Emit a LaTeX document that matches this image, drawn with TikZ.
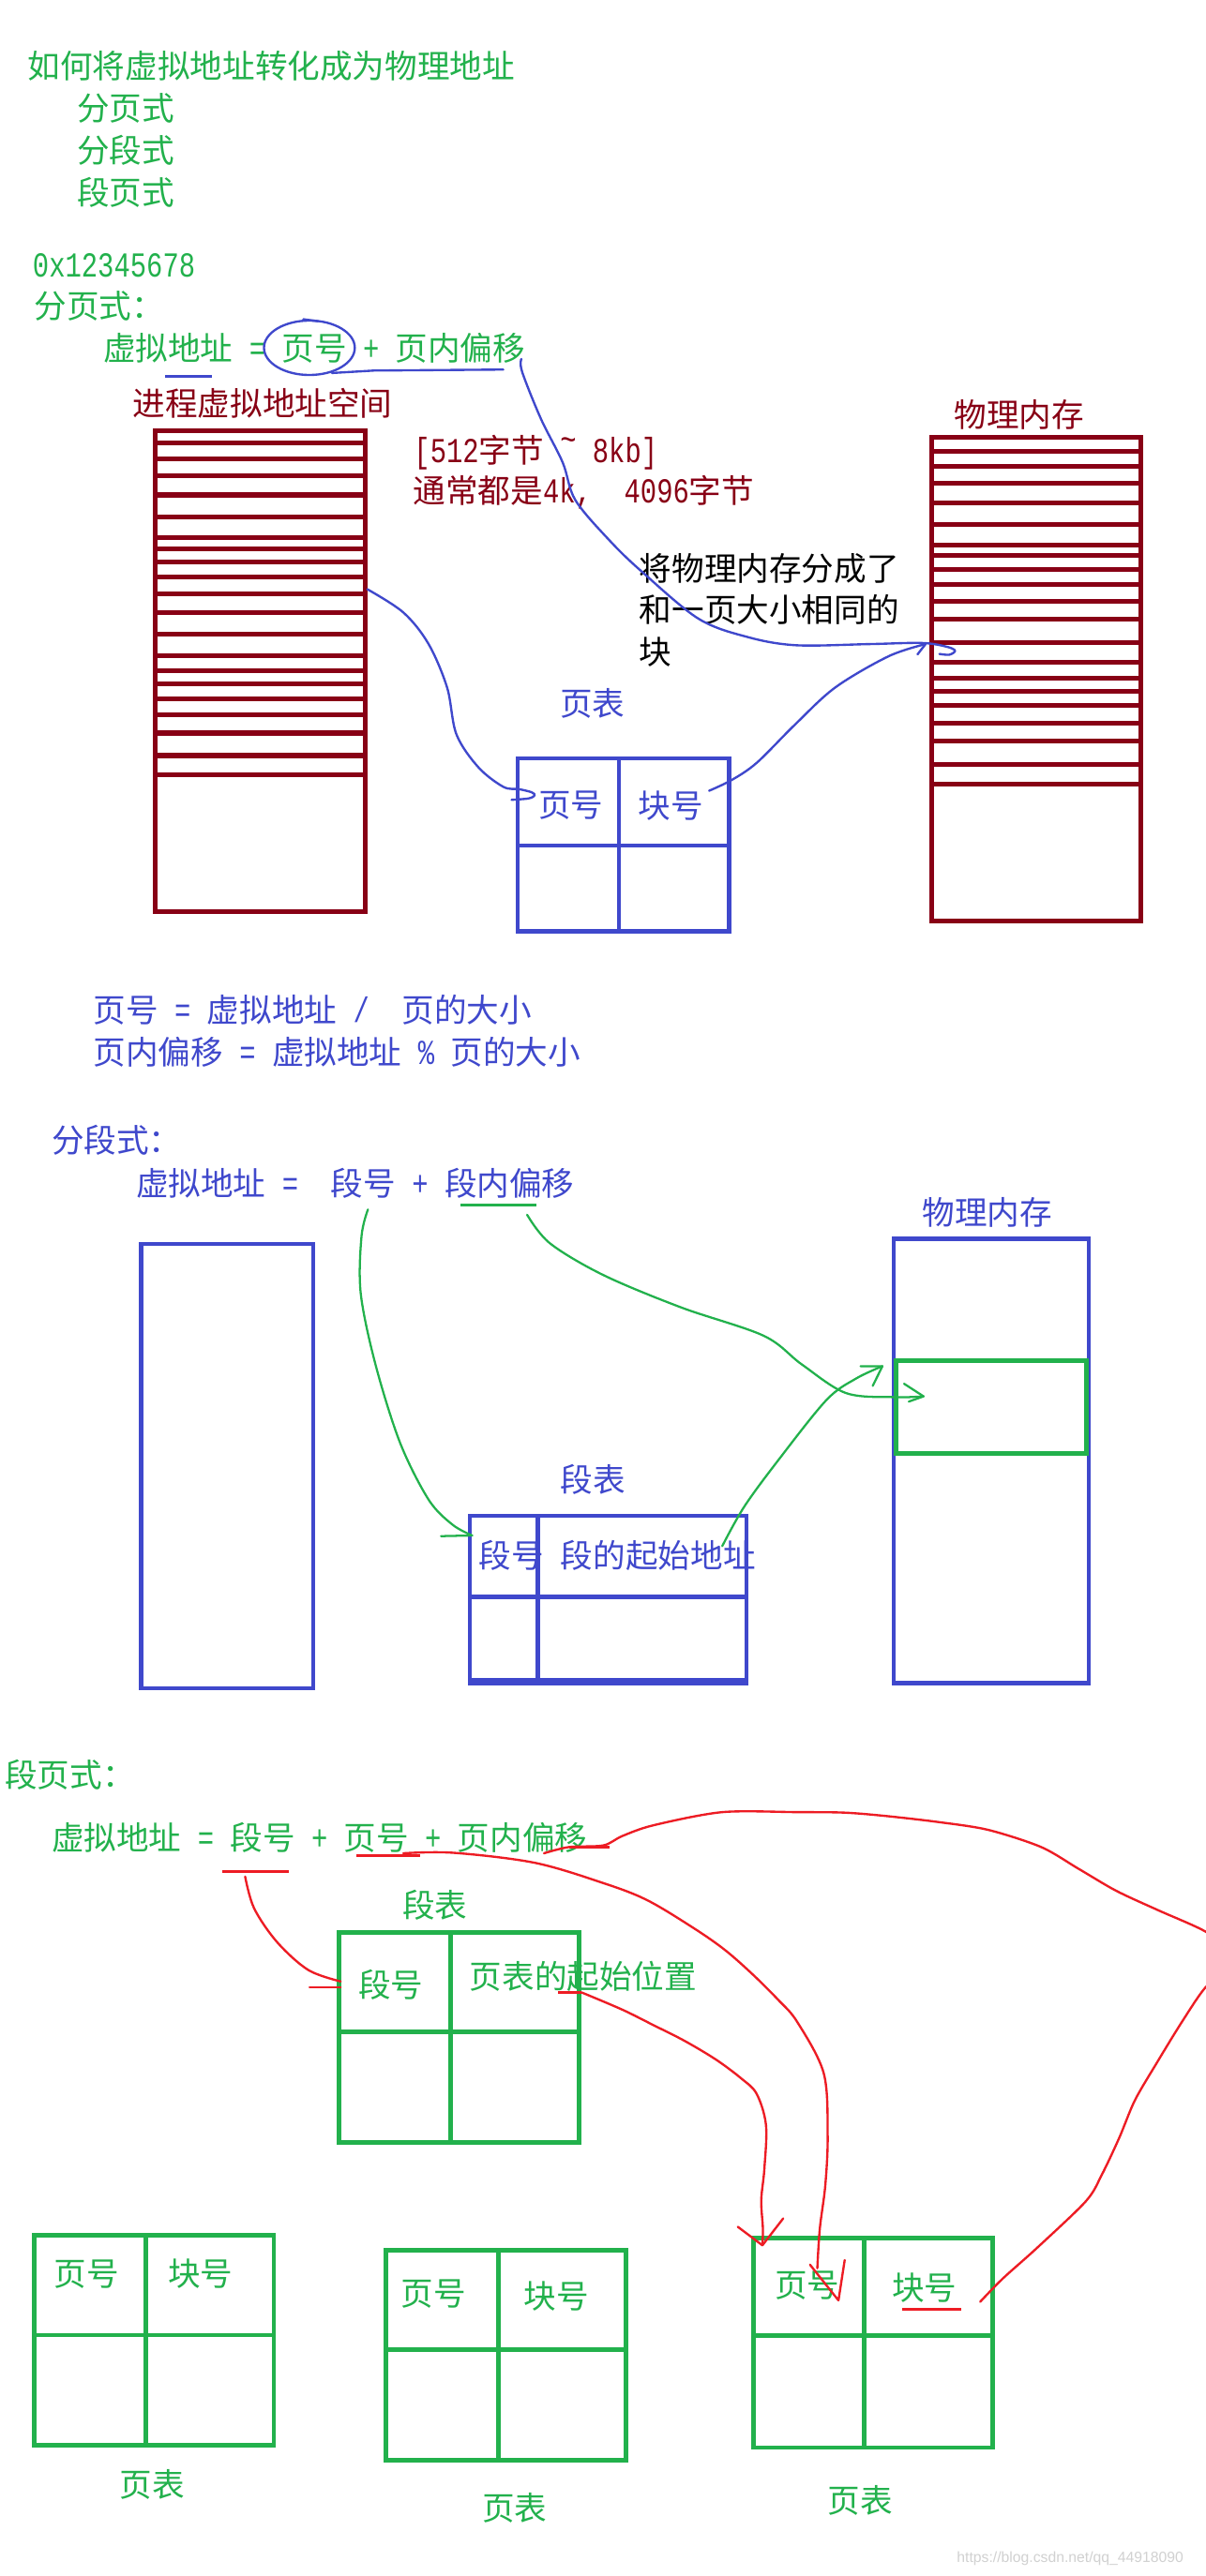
\documentclass[tikz,border=0pt]{standalone}
\usepackage{fontspec}
\setmainfont{Noto Sans CJK SC}
\newfontfamily\hwfont{Liberation Mono}[Scale=1.08,FakeStretch=0.772]
\newfontfamily\wmfont{Liberation Sans}
\usetikzlibrary{arrows.meta}
\definecolor{cgreen}{RGB}{34,177,76}
\definecolor{cblue}{RGB}{63,72,204}
\definecolor{cdred}{RGB}{136,0,21}
\definecolor{cred}{RGB}{237,28,36}
\newcommand\hw[1]{{\hwfont#1}}
\newcommand\fs{\fontsize{19.8pt}{23pt}\selectfont}
\begin{document}
\begin{tikzpicture}[x=1pt,y=-1pt,
  tx/.style={anchor=base west,inner sep=0pt,outer sep=0pt,font=\fs},
  gtx/.style={tx,text=cgreen},
  btx/.style={tx,text=cblue},
  rtx/.style={tx,text=cdred},
  ktx/.style={tx,text=black},
  rbox/.style={draw=cdred,line width=2.9pt},
  bbox/.style={draw=cblue,line width=2.6pt},
  gbox/.style={draw=cgreen,line width=2.8pt},
  bcurve/.style={draw=cblue,line width=1.35pt,line cap=round,line join=round},
  gcurve/.style={draw=cgreen,line width=1.3pt,line cap=round,line join=round},
  rcurve/.style={draw=cred,line width=1.35pt,line cap=round,line join=round},
  rmark/.style={draw=cred,line width=1.9pt},
  ]
\useasboundingbox (0,0) rectangle (735,1571.8);
\fill[white] (0,0) rectangle (735,1571.8);

% ---------------- top texts ----------------
\node[gtx] (title) at (17,47.5) {如何将虚拟地址转化成为物理地址};
\node[gtx] (m1) at (47,73.5) {分页式};
\node[gtx] (m2) at (47,99) {分段式};
\node[gtx] (m3) at (47,124.8) {段页式};
\node[gtx] (hex) at (20,169.2) {\hw{0x12345678}};
\node[gtx] (fy) at (21,194.4) {分页式：};
\node[gtx] (eq1) at (63,220.1) {虚拟地址\hw{ = }页号\hw{ + }页内偏移};

% blue marks on formula
\draw[bcurve] (188.7,212.2) ellipse [x radius=27.7, y radius=16.6];
\draw[bcurve] (185,194.8) -- (194,196);
\draw[bcurve] (202.4,227.6) -- (228,226.1) -- (307,225.5);
\draw[draw=cblue,line width=1.5pt] (100.7,229.8) -- (129.3,229.8);

\node[rtx] (vlabel) at (81,253.5) {进程虚拟地址空间};
\node[rtx] (sz1) at (252.5,282.1) {\hw{[512}字节\hw{ \raisebox{.3em}{\textasciitilde} 8kb]}};
\node[rtx] (sz2) at (252,306.9) {通常都是\hw{4k,\ \ 4096}字节};
\node[rtx] (plabel) at (582,260.5) {物理内存};
\node[ktx] (note1) at (390,354.5) {将物理内存分成了};
\node[ktx] (note2) at (390,379.5) {和一页大小相同的};
\node[ktx] (note3) at (390,405) {块};

% virtual address space column
\draw[rbox] (94.4,262.8) rectangle (222.7,556);
\foreach \yy in {270.5,280,290.5,302,315.5,328,335,343,352,362.5,374,387,400,409,417,426.3,436,447.3,461,472.6}
  \draw[rbox] (94.4,\yy) -- (222.7,\yy);

% physical memory column
\draw[rbox] (568.3,267) rectangle (696,562);
\foreach \yy in {275.5,284.5,295,307,320,332.5,339,347.5,356.5,367,378,392,404.3,413.8,421.8,430.6,441.1,452.3,466.2,478.3}
  \draw[rbox] (568.3,\yy) -- (696,\yy);

% page table
\node[btx] (ptl) at (341.5,436.5) {页表};
\draw[bbox] (315.6,462.8) rectangle (444.7,568.3);
\draw[bbox] (377.6,462.8) -- (377.6,568.3);
\draw[bbox] (315.6,515.8) -- (444.7,515.8);
\node[btx] (pt1) at (328.5,498.5) {页号};
\node[btx] (pt2) at (389.5,499) {块号};

% blue connectors
\coordinate (vaOut) at (224,359.5);
\coordinate (ptIn) at (312,488);
\draw[bcurve] plot[smooth,tension=0.55] coordinates {(vaOut) (246,373.7) (261.3,392.8) (272.7,419.5) (278.4,448.1) (291.8,468.2) (307,480.1) (316.5,481.5) (324.2,483.4) (326.1,485.3) (322.3,487.2) (ptIn)};
\coordinate (blkOut) at (432.5,482.5);
\coordinate (pmIn1) at (564.5,393);
\draw[bcurve] plot[smooth,tension=0.55] coordinates {(blkOut) (446.5,475.8) (461.7,465.3) (484.6,442.4) (509.4,419.5) (541.8,400.5) (pmIn1)};
\draw[bcurve] (pmIn1) -- (559.6,399.3);
\coordinate (offOut) at (318,219);
\coordinate (pmIn2) at (573,399);
\draw[bcurve] plot[smooth,tension=0.55] coordinates {(offOut) (318.5,227) (329.9,255.5) (343.2,282.2) (350.9,305.1) (371.9,329.9) (391.7,349) (426,377.5) (456,388.7) (485.5,393.7) (530,393) (562,392.3) (577,394.5) (582.5,397) (579,399.5) (pmIn2)};

% ---------------- middle ----------------
\node[btx] (f1) at (57,623.5) {页号\hw{ = }虚拟地址\hw{ /\ \ }页的大小};
\node[btx] (f2) at (57,649.5) {页内偏移\hw{ = }虚拟地址\hw{ \% }页的大小};
\node[btx] (fd) at (31.5,703.5) {分段式：};
\node[btx] (eq2) at (83,729.5) {虚拟地址\hw{ =\ \ }段号\hw{ + }段内偏移};
\draw[draw=cgreen,line width=1.8pt] (281,735.5) -- (327.4,735.5);

\draw[bbox] (86,759) rectangle (191,1030);
\node[btx] (pm2) at (562.5,747.5) {物理内存};
\draw[bbox] (545,756) rectangle (664,1027);
\draw[gbox] (546.5,830.3) rectangle (662.5,886.9);

\node[btx] (stl) at (342,910.5) {段表};
\draw[bbox] (286.6,924.9) rectangle (455.3,1027);
\draw[bbox] (286.6,1025) -- (455.3,1025);
\draw[bbox] (328,924.9) -- (328,1027);
\draw[bbox] (286.6,974.3) -- (455.3,974.3);
\node[btx] (st1) at (292,956.5) {段号};
\node[btx] (st2) at (342,956.5) {段的起始地址};

% green connectors
\coordinate (segOut) at (224.4,738);
\coordinate (stIn) at (288,936.9);
\draw[gcurve] plot[smooth,tension=0.55] coordinates {(segOut) (220.5,754.3) (220,789) (229,832.5) (244,880.3) (261.4,915) (276,930.3) (stIn)};
\draw[gcurve] (269,937.3) -- (stIn);
\coordinate (soffOut) at (321.5,741.2);
\coordinate (gIn1) at (563.3,852);
\draw[gcurve] plot[smooth,tension=0.55] coordinates {(soffOut) (335.4,758.6) (368,778) (415.3,797.7) (465.7,815) (489,832.5) (516,850) (545.6,852.5) (gIn1)};
\draw[gcurve] (551.4,844.3) -- (gIn1) -- (554.3,855.2);
\coordinate (baseOut) at (440.5,943.4);
\coordinate (gIn2) at (538.2,833.6);
\draw[gcurve] plot[smooth,tension=0.55] coordinates {(baseOut) (453.8,919.5) (474.5,891.2) (504,854.3) (522,841.2) (gIn2)};
\draw[gcurve] (524.9,833.6) -- (gIn2) -- (532.3,845.6);

% ---------------- bottom ----------------
\node[gtx] (fdy) at (3,1090.5) {段页式：};
\node[gtx] (eq3) at (31.5,1128.8) {虚拟地址\hw{ = }段号\hw{ + }页号\hw{ + }页内偏移};

\node[gtx] (stl2) at (245.5,1169.8) {段表};
\draw[gbox] (206.9,1179) rectangle (353.2,1307.2);
\draw[gbox] (274.6,1179) -- (274.6,1307.2);
\draw[gbox] (206.9,1239.5) -- (353.2,1239.5);
\node[gtx] (s1) at (218.5,1218.5) {段号};
\node[gtx] (s2) at (286.5,1213.5) {页表的起始位置};

% three page tables
\draw[gbox] (21,1364) rectangle (167,1492);
\draw[gbox] (89,1364) -- (89,1492);
\draw[gbox] (21,1424.8) -- (167,1424.8);
\node[gtx] (a1) at (33,1394.5) {页号};
\node[gtx] (a2) at (102.5,1394.5) {块号};
\node[gtx] (al) at (73,1523.5) {页表};

\draw[gbox] (235.6,1373.2) rectangle (381.6,1501.2);
\draw[gbox] (304,1373.2) -- (304,1501.2);
\draw[gbox] (235.6,1433.5) -- (381.6,1433.5);
\node[gtx] (b1) at (244.5,1407) {页号};
\node[gtx] (b2) at (319.5,1408.3) {块号};
\node[gtx] (bl) at (294,1537.5) {页表};

\draw[gbox] (459.6,1365.4) rectangle (605.5,1493.4);
\draw[gbox] (527.3,1365.4) -- (527.3,1493.4);
\draw[gbox] (459.6,1425.3) -- (605.5,1425.3);
\node[gtx] (c1) at (472.5,1401.5) {页号};
\node[gtx] (c2) at (544,1403.5) {块号};
\node[gtx] (cl) at (505,1533) {页表};

% red marks
\draw[rmark] (135.6,1142) -- (176,1142);
\draw[rmark] (217.4,1132.2) -- (256.5,1132.2);
\draw[rmark] (347,1126.9) -- (371.7,1126.9);
\draw[rmark] (340.4,1215.7) -- (354.7,1215.7);
\draw[rmark] (550,1408.9) -- (586,1408.9);

% red connectors
\coordinate (r1s) at (149.5,1145);
\coordinate (r1e) at (207.8,1209);
\draw[rcurve] plot[smooth,tension=0.55] coordinates {(r1s) (155,1164.4) (169,1185) (188,1202) (r1e)};
\draw[rcurve] (188.8,1212.4) -- (207.8,1212.4);

\coordinate (r2s) at (246,1130.8);
\coordinate (r2e) at (498.5,1384);
\draw[rcurve] plot[smooth,tension=0.55] coordinates {(r2s) (276.5,1130.5) (326.1,1136.6) (368,1149) (394.7,1159.4) (423.3,1176.6) (442.4,1190) (459.6,1205.2) (474.8,1220.4) (486.3,1233.8) (502.4,1265) (504.8,1302.5) (503.4,1333) (500,1360) (r2e)};
\coordinate (r2tip) at (511.4,1403.6);
\draw[rcurve] (494,1381.8) -- (r2tip) -- (515.2,1379);

\coordinate (r3s) at (354.7,1215.7);
\coordinate (r3e) at (465,1370);
\draw[rcurve] plot[smooth,tension=0.55] coordinates {(r3s) (379.5,1226.2) (398.6,1235.7) (417.6,1245.3) (436.7,1256.7) (452,1268.1) (461.5,1277.6) (467.2,1296.7) (466.2,1323.4) (464.3,1342.5) (465.3,1359.7) (r3e)};
\draw[rcurve] (450,1358.7) -- (r3e) -- (477.7,1353.6);

\coordinate (r4s) at (331.8,1130.8);
\coordinate (r4e) at (597.8,1404.5);
\draw[rcurve] plot[smooth,tension=0.5] coordinates {(r4s) (347,1127) (368,1126) (379.5,1120.3) (398.6,1113.7) (440.5,1105.7) (486.3,1105.7) (514.9,1106) (539.7,1108) (572,1111.7) (602.6,1116.5) (635,1127) (657.9,1140.3) (680.8,1153.7) (705.6,1165.2) (735.1,1178.5) (748,1190) (748,1203) (735.1,1212.8) (720.8,1233.8) (705.6,1258.6) (692.2,1281.5) (682.7,1304.3) (672,1327) (662.3,1343.1) (632.7,1371.4) (611.5,1390.4) (r4e)};

% watermark
\node[anchor=base east,inner sep=0pt,text=black!18,font=\wmfont\fontsize{9pt}{10pt}\selectfont] (wm) at (722,1563.5) {https://blog.csdn.net/qq\_44918090};
\end{tikzpicture}
\end{document}
